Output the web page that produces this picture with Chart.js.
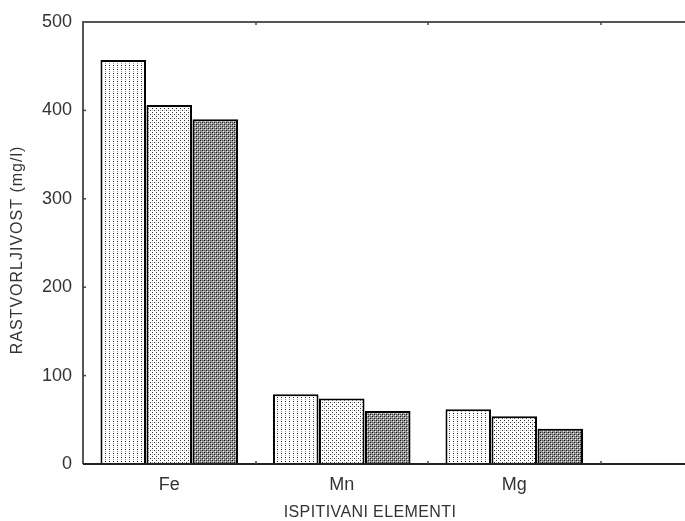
<!DOCTYPE html>
<html>
<head>
<meta charset="utf-8">
<script src="https://cdn.jsdelivr.net/npm/chart.js@4"></script>
<style>
  html, body { margin: 0; padding: 0; background: #fff; overflow: hidden; }
  #wrap { width: 800px; height: 521px; }
</style>
</head>
<body>
<div id="wrap"><canvas id="chart" width="800" height="521"></canvas></div>
<script>
const elements = ['Fe', 'Mn', 'Mg', ''];
const series1 = [457, 79, 62, null];
const series2 = [406, 74, 54, null];
const series3 = [390, 60, 40, null];
const yTicks = [0, 100, 200, 300, 400, 500];

const fontFamily = '"Liberation Sans", Arial, sans-serif';

// small tiles for the dotted fills
function makePattern(size, bg, dots) {
  const c = document.createElement('canvas');
  c.width = size; c.height = size;
  const g = c.getContext('2d');
  g.fillStyle = bg;
  g.fillRect(0, 0, size, size);
  dots.forEach(d => {
    g.fillStyle = d[2];
    g.fillRect(d[0], d[1], 1, 1);
  });
  return document.getElementById('chart').getContext('2d').createPattern(c, 'repeat');
}

const fill1 = makePattern(4, '#ffffff', [[1, 1, '#222'], [1, 3, '#999']]);
const fill2 = makePattern(4, '#ffffff', [[0, 0, '#333'], [2, 2, '#333'], [0, 2, '#bbb']]);
const fill3 = makePattern(4, '#9a9a9a', [[0, 0, '#111'], [2, 2, '#111'], [0, 2, '#555'], [2, 0, '#555'], [1, 1, '#eee'], [3, 3, '#eee']]);

const frame = {
  id: 'frame',
  afterDraw(chart) {
    const { ctx, chartArea: a, scales } = chart;
    ctx.save();
    ctx.strokeStyle = '#555';
    ctx.lineWidth = 2;
    ctx.beginPath();
    ctx.moveTo(a.left, a.bottom);
    ctx.lineTo(a.left, a.top);
    ctx.lineTo(chart.width, a.top);
    ctx.stroke();
    ctx.strokeStyle = '#222';
    ctx.beginPath();
    ctx.moveTo(a.left, a.bottom);
    ctx.lineTo(chart.width, a.bottom);
    ctx.stroke();
    // short inward ticks
    ctx.lineWidth = 1.5;
    ctx.strokeStyle = '#444';
    yTicks.slice(1, -1).forEach(v => {
      const y = scales.y.getPixelForValue(v);
      ctx.beginPath();
      ctx.moveTo(a.left, y);
      ctx.lineTo(a.left + 3, y);
      ctx.stroke();
    });
    for (let i = 0; i < elements.length - 1; i++) {
      const x = Math.round((scales.x.getPixelForValue(i) + scales.x.getPixelForValue(i + 1)) / 2);
      ctx.beginPath();
      ctx.moveTo(x, a.bottom);
      ctx.lineTo(x, a.bottom - 3);
      ctx.stroke();
      ctx.beginPath();
      ctx.moveTo(x, a.top);
      ctx.lineTo(x, a.top + 3);
      ctx.stroke();
    }
    // axis titles
    ctx.fillStyle = '#333';
    ctx.font = '16px ' + fontFamily;
    ctx.textAlign = 'center';
    ctx.textBaseline = 'middle';
    ctx.letterSpacing = '0.4px';
    ctx.fillText('ISPITIVANI ELEMENTI', 370, 513);
    ctx.translate(18, 250);
    ctx.rotate(-Math.PI / 2);
    ctx.letterSpacing = '1px';
    ctx.fillText('RASTVORLJIVOST (mg/l)', 0, 0);
    ctx.restore();
  }
};

new Chart(document.getElementById('chart'), {
  type: 'bar',
  data: {
    labels: elements,
    datasets: [
      { data: series1, backgroundColor: fill1 },
      { data: series2, backgroundColor: fill2 },
      { data: series3, backgroundColor: fill3 }
    ].map(d => Object.assign(d, {
      borderColor: '#000',
      borderWidth: 2,
      barPercentage: 0.99,
      categoryPercentage: 0.8
    }))
  },
  options: {
    responsive: false,
    animation: false,
    events: [],
    layout: { padding: { left: 0, right: 27, top: 22, bottom: 0 } },
    plugins: { legend: { display: false }, tooltip: { enabled: false } },
    scales: {
      x: {
        grid: { display: false, drawTicks: false },
        border: { display: false },
        ticks: { color: '#333', padding: 10, font: { size: 18, family: fontFamily } },
        afterFit(s) { s.height = 57; }
      },
      y: {
        min: 0,
        max: 500,
        afterBuildTicks(s) { s.ticks = yTicks.map(v => ({ value: v })); },
        grid: { display: false, drawTicks: false },
        border: { display: false },
        ticks: { color: '#333', padding: 11, font: { size: 18, family: fontFamily } },
        afterFit(s) { s.width = 83; }
      }
    }
  },
  plugins: [frame]
});
</script>
</body>
</html>
